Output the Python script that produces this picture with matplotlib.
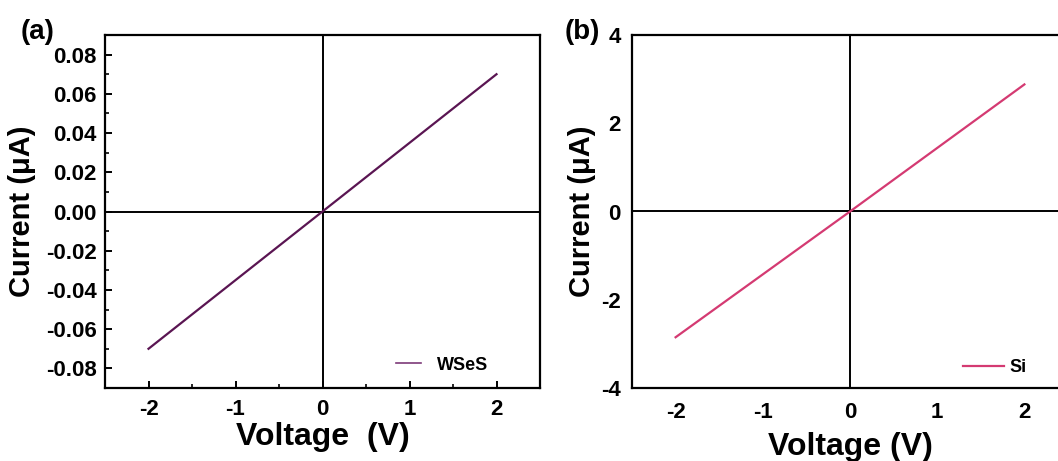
import matplotlib
matplotlib.use('Agg')
import matplotlib.pyplot as plt
from matplotlib.ticker import MultipleLocator

plt.rcParams['font.family'] = ['Liberation Sans', 'DejaVu Sans']
plt.rcParams['font.weight'] = 'bold'
plt.rcParams['axes.unicode_minus'] = False

# I-V data
voltage = [-2, 0, 2]
current_wses = [-0.07, 0.0, 0.07]   # uA
current_si = [-2.85, 0.0, 2.88]     # uA

xticks = [-2, -1, 0, 1, 2]
yticks_a = [-0.08, -0.06, -0.04, -0.02, 0.00, 0.02, 0.04, 0.06, 0.08]
yticks_b = [-4, -2, 0, 2, 4]

fig = plt.figure(figsize=(10.58, 4.61), dpi=100)
ax1 = fig.add_axes([105 / 1058, 73 / 461, 435 / 1058, 353 / 461])
ax2 = fig.add_axes([632 / 1058, 73 / 461, 436 / 1058, 353 / 461])

# (a) WSeS
ax1.plot(voltage, current_wses, color='#5a1552', lw=1.6, label='WSeS')
ax1.axhline(0, color='black', lw=1.4, zorder=1)
ax1.axvline(0, color='black', lw=1.4, zorder=1)
ax1.set_xlim(-2.5, 2.5)
ax1.set_ylim(-0.09, 0.09)
ax1.set_xticks(xticks)
ax1.set_yticks(yticks_a)
ax1.set_yticklabels(['%.2f' % v for v in yticks_a])
ax1.xaxis.set_minor_locator(MultipleLocator(0.5))
ax1.yaxis.set_minor_locator(MultipleLocator(0.01))
ax1.tick_params(which='major', direction='in', length=5, width=1.4, labelsize=16, pad=6)
ax1.tick_params(axis='x', which='major', pad=8)
ax1.tick_params(which='minor', direction='in', length=3, width=1.2)
ax1.set_xlabel('Voltage  (V)', fontsize=23, fontweight='bold', va='center')
ax1.set_ylabel('Current (μA)', fontsize=21, fontweight='bold', va='center')
ax1.xaxis.set_label_coords(0.5, -0.139)
ax1.yaxis.set_label_coords(-0.19, 0.5)
leg1 = ax1.legend(loc='center right', bbox_to_anchor=(0.882, 0.065), frameon=False,
                  fontsize=13, handlelength=1.4, handletextpad=0.9,
                  borderpad=0, borderaxespad=0)
leg1.get_lines()[0].set_color('#7d3a78')
leg1.get_lines()[0].set_linewidth(1.2)

# (b) Si
ax2.plot(voltage, current_si, color='#d43a72', lw=1.6, label='Si')
ax2.axhline(0, color='black', lw=1.4, zorder=1)
ax2.axvline(0, color='black', lw=1.4, zorder=1)
ax2.set_xlim(-2.5, 2.5)
ax2.set_ylim(-4, 4)
ax2.set_xticks(xticks)
ax2.set_yticks(yticks_b)
ax2.tick_params(which='major', length=0, labelsize=16, pad=8)
ax2.tick_params(axis='x', which='major', pad=10)
ax2.set_xlabel('Voltage (V)', fontsize=23, fontweight='bold', va='center')
ax2.set_ylabel('Current (μA)', fontsize=21, fontweight='bold', va='center')
ax2.xaxis.set_label_coords(0.5, -0.167)
ax2.yaxis.set_label_coords(-0.115, 0.5)
ax2.legend(loc='center right', bbox_to_anchor=(0.905, 0.057), frameon=False,
           fontsize=13, handlelength=2.3, handletextpad=0.3,
           borderpad=0, borderaxespad=0)

for ax in (ax1, ax2):
    for s in ax.spines.values():
        s.set_linewidth(1.6)

fig.text(38 / 1058, 1 - 32 / 461, '(a)', fontsize=20, fontweight='bold', ha='center', va='center')
fig.text(582 / 1058, 1 - 32 / 461, '(b)', fontsize=20, fontweight='bold', ha='center', va='center')

fig.savefig('out.png', dpi=100)
